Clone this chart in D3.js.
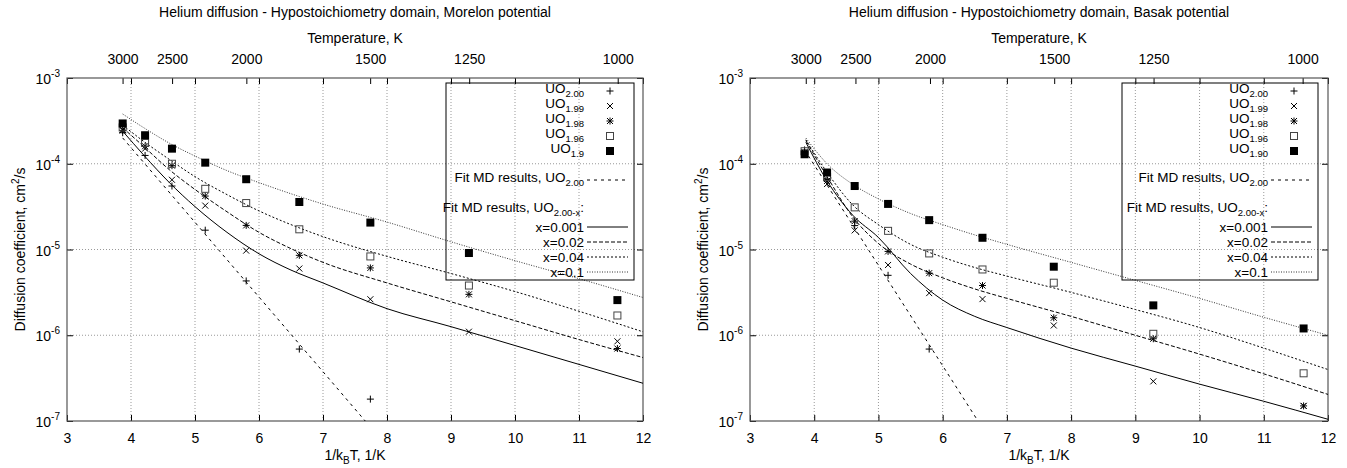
<!DOCTYPE html>
<html>
<head>
<meta charset="utf-8">
<script src="https://cdn.jsdelivr.net/npm/d3@7"></script>
<style>
  body { margin: 0; background: #fff; }
  svg text { font-family: "Liberation Sans", Arial, sans-serif; font-size: 14px; fill: #000; }
  svg .legend text { font-size: 13.5px; }
</style>
</head>
<body>
<svg id="chart" width="1347" height="468"></svg>
<script>
// ---- data ----
// x positions of the MD points, 1/kBT in 1/eV (T = 3000 ... 1000 K)
const invKT = [3.87, 4.22, 4.64, 5.16, 5.80, 6.63, 7.74, 9.28, 11.6];
const invKTBasak = [3.85, 4.20, 4.63, 5.15, 5.79, 6.62, 7.73, 9.28, 11.62];

// Morelon potential, diffusion coefficient cm^2/s
const morelonUO200 = [2.3e-4, 1.25e-4, 5.5e-5, 1.68e-5, 4.3e-6, 6.9e-7, 1.8e-7, null, null];
const morelonUO199 = [2.5e-4, 1.5e-4, 6.5e-5, 3.25e-5, 9.7e-6, 6.0e-6, 2.63e-6, 1.1e-6, 8.5e-7];
const morelonUO198 = [2.45e-4, 1.6e-4, 9.5e-5, 4.2e-5, 1.91e-5, 8.55e-6, 6.1e-6, 3.0e-6, 7.0e-7];
const morelonUO196 = [2.65e-4, 1.75e-4, 1.0e-4, 5.1e-5, 3.48e-5, 1.72e-5, 8.3e-6, 3.8e-6, 1.7e-6];
const morelonUO190 = [2.95e-4, 2.15e-4, 1.5e-4, 1.03e-4, 6.6e-5, 3.58e-5, 2.06e-5, 9.1e-6, 2.57e-6];

// Basak potential
const basakUO200 = [1.45e-4, 6.5e-5, 1.9e-5, 5.0e-6, 6.9e-7, null, null, null, null];
const basakUO199 = [1.3e-4, 5.8e-5, 1.67e-5, 6.6e-6, 3.1e-6, 2.64e-6, 1.3e-6, 2.9e-7, 1.5e-7];
const basakUO198 = [1.35e-4, 6.3e-5, 2.14e-5, 9.5e-6, 5.3e-6, 3.8e-6, 1.6e-6, 9.1e-7, 1.5e-7];
const basakUO196 = [1.4e-4, 7.0e-5, 3.1e-5, 1.65e-5, 9.0e-6, 5.85e-6, 4.1e-6, 1.04e-6, 3.6e-7];
const basakUO190 = [1.29e-4, 7.9e-5, 5.5e-5, 3.4e-5, 2.2e-5, 1.37e-5, 6.3e-6, 2.23e-6, 1.2e-6];

// fit curves, log10(D) read at these x positions
const fitX = [3.87, 4.2, 4.6, 5.0, 5.5, 6.0, 6.5, 7.0, 8.0, 9.0, 10.0, 11.0, 12.0];
const morelonFit0001 = [-3.62, -3.90, -4.22, -4.50, -4.80, -5.05, -5.24, -5.39, -5.69, -5.90, -6.12, -6.34, -6.56];
const morelonFit002  = [-3.58, -3.80, -4.07, -4.30, -4.56, -4.80, -4.99, -5.15, -5.39, -5.61, -5.83, -6.05, -6.26];
const morelonFit004  = [-3.55, -3.74, -3.95, -4.15, -4.36, -4.55, -4.71, -4.85, -5.08, -5.28, -5.49, -5.72, -5.96];
const morelonFit01   = [-3.42, -3.58, -3.76, -3.91, -4.08, -4.22, -4.35, -4.47, -4.68, -4.91, -5.13, -5.34, -5.56];
const basakFit0001 = [-3.75, -4.20, -4.60, -4.86, -5.28, -5.59, -5.78, -5.91, -6.15, -6.36, -6.57, -6.77, -6.98];
const basakFit002  = [-3.73, -4.15, -4.62, -4.93, -5.17, -5.33, -5.46, -5.57, -5.78, -6.00, -6.22, -6.45, -6.69];
const basakFit004  = [-3.72, -4.10, -4.48, -4.71, -4.94, -5.09, -5.21, -5.31, -5.50, -5.70, -5.91, -6.15, -6.40];
const basakFit01   = [-3.70, -4.00, -4.24, -4.41, -4.58, -4.71, -4.83, -4.94, -5.15, -5.36, -5.57, -5.79, -6.00];

// straight Arrhenius fit of UO2.00: [x, D] end points
const morelonFitUO2 = [[3.87, 2.0e-4], [7.66, 1e-7]];
const basakFitUO2 = [[3.85, 1.45e-4], [6.55, 1e-7]];

// axes
const xTicks = [3, 4, 5, 6, 7, 8, 9, 10, 11, 12];
const yTicks = [1e-3, 1e-4, 1e-5, 1e-6, 1e-7];
const yTickExp = ['-3', '-4', '-5', '-6', '-7'];
const tempTicks = [3000, 2500, 2000, 1500, 1250, 1000];
const kB = 8.617e-5; // eV/K

const pointLabels = ['2.00', '1.99', '1.98', '1.96'];
const fitLabels = ['x=0.001', 'x=0.02', 'x=0.04', 'x=0.1'];

const svg = d3.select('#chart');

// marker shapes
const markers = ['plus', 'cross', 'star', 'open', 'filled'];
function drawMarker(g, type, cx, cy) {
    const s = 3.5;
    if (type === 'plus' || type === 'star') {
        g.append('path').attr('d', `M${cx - s},${cy}H${cx + s}M${cx},${cy - s}V${cy + s}`)
            .attr('stroke', '#000').attr('stroke-width', 1);
    }
    if (type === 'cross' || type === 'star') {
        const c = 3;
        g.append('path').attr('d', `M${cx - c},${cy - c}L${cx + c},${cy + c}M${cx - c},${cy + c}L${cx + c},${cy - c}`)
            .attr('stroke', '#000').attr('stroke-width', 1);
    }
    if (type === 'open') {
        g.append('rect').attr('x', cx - 3.5).attr('y', cy - 3.5).attr('width', 7).attr('height', 7)
            .attr('fill', 'none').attr('stroke', '#444').attr('stroke-width', 1);
    }
    if (type === 'filled') {
        g.append('rect').attr('x', cx - 4).attr('y', cy - 4).attr('width', 8).attr('height', 8)
            .attr('fill', '#000');
    }
}

const fitStyles = [
    { dash: null, color: '#000' },
    { dash: '4,2', color: '#000' },
    { dash: '2,2', color: '#000' },
    { dash: '1,1.5', color: '#333' }
];

function drawPanel(cfg, idx) {
    const top = 78, bottom = 421;
    const x = d3.scaleLinear().domain([3, 12]).range([cfg.left, cfg.right]);
    const y = d3.scaleLog().domain([1e-7, 1e-3]).range([bottom, top]);
    const g = svg.append('g');
    const cx = (cfg.left + cfg.right) / 2;

    // clip
    const clipId = 'clip' + idx;
    g.append('clipPath').attr('id', clipId).append('rect')
        .attr('x', cfg.left).attr('y', top).attr('width', cfg.right - cfg.left).attr('height', bottom - top);

    // grid
    const grid = g.append('g').attr('stroke', '#999').attr('stroke-width', 1).attr('stroke-dasharray', '1,2');
    xTicks.slice(1, -1).forEach(v => {
        grid.append('line').attr('x1', x(v)).attr('x2', x(v)).attr('y1', top).attr('y2', bottom);
    });
    yTicks.slice(1, -1).forEach(v => {
        grid.append('line').attr('x1', cfg.left).attr('x2', cfg.right).attr('y1', y(v)).attr('y2', y(v));
    });

    // bottom axis
    const xb = g.append('g').attr('transform', `translate(0,${bottom})`)
        .call(d3.axisBottom(x).tickValues(xTicks).tickSize(-6).tickSizeOuter(0).tickPadding(12));
    // top mirror ticks
    const xt = g.append('g').attr('transform', `translate(0,${top})`)
        .call(d3.axisTop(x).tickValues(xTicks).tickSize(-6).tickSizeOuter(0).tickFormat(''));
    // temperature axis
    const tt = g.append('g').attr('transform', `translate(0,${top})`)
        .call(d3.axisTop(x).tickValues(tempTicks.map(T => 1 / (kB * T)))
            .tickFormat((d, i) => tempTicks[i]).tickSize(-6).tickSizeOuter(0).tickPadding(14));
    // y ticks
    const yl = g.append('g').attr('transform', `translate(${cfg.left},0)`)
        .call(d3.axisLeft(y).tickValues(yTicks).tickSize(-6).tickSizeOuter(0).tickFormat(''));
    const yr = g.append('g').attr('transform', `translate(${cfg.right},0)`)
        .call(d3.axisRight(y).tickValues(yTicks).tickSize(-6).tickSizeOuter(0).tickFormat(''));
    [xb, xt, tt, yl, yr].forEach(a => {
        a.select('.domain').remove();
        a.selectAll('.tick line').attr('stroke', '#000');
    });

    // y tick labels with superscript
    yTicks.forEach((v, i) => {
        const t = g.append('text').attr('x', cfg.left - 7).attr('y', y(v) + 6).attr('text-anchor', 'end');
        t.append('tspan').text('10');
        t.append('tspan').attr('dy', -7).attr('font-size', 10).text(yTickExp[i]);
    });

    // frame
    g.append('rect').attr('x', cfg.left).attr('y', top).attr('width', cfg.right - cfg.left).attr('height', bottom - top)
        .attr('fill', 'none').attr('stroke', '#555').attr('stroke-width', 1.2);

    // titles
    g.append('text').attr('x', cx).attr('y', 17).attr('text-anchor', 'middle').text(cfg.title);
    g.append('text').attr('x', cx).attr('y', 43).attr('text-anchor', 'middle').text('Temperature, K');
    const xl = g.append('text').attr('x', cx).attr('y', 460).attr('text-anchor', 'middle');
    xl.append('tspan').text('1/k');
    xl.append('tspan').attr('dy', 4).attr('font-size', 10).text('B');
    xl.append('tspan').attr('dy', -4).text('T, 1/K');
    const ylab = g.append('text').attr('transform', `translate(${cfg.left - 42},${(top + bottom) / 2}) rotate(-90)`)
        .attr('text-anchor', 'middle');
    ylab.append('tspan').text('Diffusion coefficient, cm');
    ylab.append('tspan').attr('dy', -6).attr('font-size', 10).text('2');
    ylab.append('tspan').attr('dy', 6).text('/s');

    // fits
    const plot = g.append('g').attr('clip-path', `url(#${clipId})`);
    const line = d3.line().x(d => x(d[0])).y(d => y(d[1])).curve(d3.curveMonotoneX);
    plot.append('path').datum(cfg.fitUO2).attr('d', line)
        .attr('fill', 'none').attr('stroke', '#000').attr('stroke-width', 1).attr('stroke-dasharray', '3,4');
    cfg.fits.forEach((f, i) => {
        const pts = fitX.map((v, j) => [v, Math.pow(10, f[j])]);
        plot.append('path').datum(pts).attr('d', line)
            .attr('fill', 'none').attr('stroke', fitStyles[i].color).attr('stroke-width', 1)
            .attr('stroke-dasharray', fitStyles[i].dash);
    });

    // points
    cfg.series.forEach((s, i) => {
        s.forEach((v, j) => {
            if (v == null) return;
            drawMarker(plot, markers[i], x(cfg.xs[j]), y(v));
        });
    });

    // legend (transparent box, curves show through)
    const lg = g.append('g').attr('class', 'legend');
    lg.append('rect').attr('x', cfg.legX).attr('y', 83).attr('width', cfg.legRight - cfg.legX).attr('height', 197)
        .attr('fill', 'none').attr('stroke', '#000').attr('stroke-width', 1);
    const tx = cfg.legRight - 50, sx = cfg.legRight - 24;
    const labels = pointLabels.concat([cfg.lastLabel]);
    labels.forEach((lab, i) => {
        const yy = 91 + i * 15;
        const t = lg.append('text').attr('x', tx).attr('y', yy + 2).attr('text-anchor', 'end');
        t.append('tspan').text('UO');
        t.append('tspan').attr('dy', 3.5).attr('font-size', 9.5).text(lab);
        drawMarker(lg, markers[i], sx, yy);
    });
    let t = lg.append('text').attr('x', tx).attr('y', 182).attr('text-anchor', 'end');
    t.append('tspan').text('Fit MD results, UO');
    t.append('tspan').attr('dy', 3.5).attr('font-size', 9.5).text('2.00');
    lg.append('line').attr('x1', tx + 3).attr('x2', tx + 44).attr('y1', 180).attr('y2', 180)
        .attr('stroke', '#000').attr('stroke-dasharray', '3,4');
    t = lg.append('text').attr('x', tx).attr('y', 212).attr('text-anchor', 'end');
    t.append('tspan').text('Fit MD results, UO');
    t.append('tspan').attr('dy', 3.5).attr('font-size', 9.5).text('2.00-x');
    t.append('tspan').attr('dy', -3.5).text(':');
    fitLabels.forEach((lab, i) => {
        const yy = 227 + i * 15;
        lg.append('text').attr('x', tx).attr('y', yy + 5).attr('text-anchor', 'end').text(lab);
        lg.append('line').attr('x1', tx + 3).attr('x2', tx + 44).attr('y1', yy).attr('y2', yy)
            .attr('stroke', fitStyles[i].color).attr('stroke-dasharray', fitStyles[i].dash);
    });
}

drawPanel({
    title: 'Helium diffusion - Hypostoichiometry domain, Morelon potential',
    left: 67, right: 643, legX: 446, legRight: 634, xs: invKT, lastLabel: '1.9',
    series: [morelonUO200, morelonUO199, morelonUO198, morelonUO196, morelonUO190],
    fits: [morelonFit0001, morelonFit002, morelonFit004, morelonFit01],
    fitUO2: morelonFitUO2
}, 0);

drawPanel({
    title: 'Helium diffusion - Hypostoichiometry domain, Basak potential',
    left: 750, right: 1328, legX: 1122, legRight: 1318, xs: invKTBasak, lastLabel: '1.90',
    series: [basakUO200, basakUO199, basakUO198, basakUO196, basakUO190],
    fits: [basakFit0001, basakFit002, basakFit004, basakFit01],
    fitUO2: basakFitUO2
}, 1);
</script>
</body>
</html>
